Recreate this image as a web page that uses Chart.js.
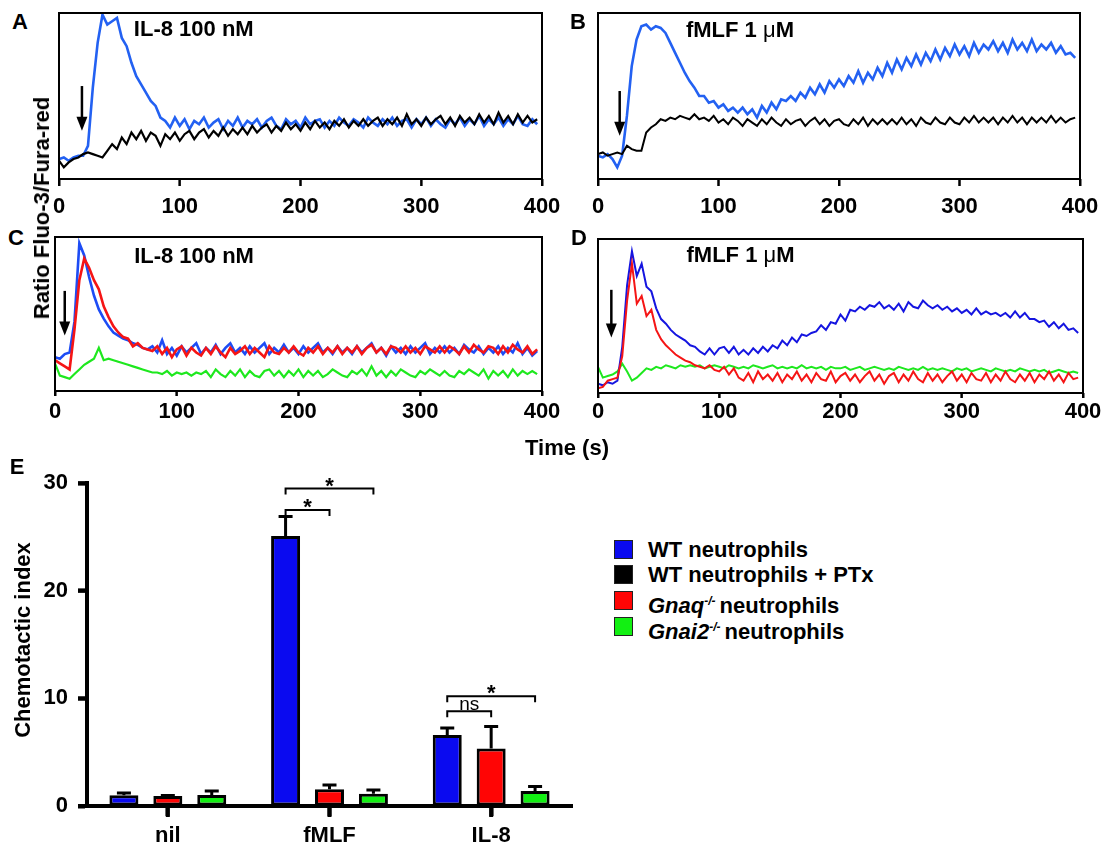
<!DOCTYPE html>
<html>
<head>
<meta charset="utf-8">
<script src="https://cdn.jsdelivr.net/npm/chart.js@4.4.0/dist/chart.umd.min.js"></script>
<style>
  body { margin: 0; background: #fff; }
  #page { position: relative; width: 1101px; height: 845px; overflow: hidden;
          font-family: "Liberation Sans", Arial, Helvetica, sans-serif; font-weight: bold; color: #000; }
  canvas { position: absolute; }
  .lbl { position: absolute; font-size: 22px; white-space: nowrap; transform: translate(-50%, -50%); }
  .rot { transform: translate(-50%, -50%) rotate(-90deg); }
  .leg { position: absolute; left: 614px; font-size: 22px; white-space: nowrap; height: 20px; line-height: 20px; }
  .leg .sw { display: inline-block; width: 17px; height: 17px; border: 1.5px solid #222; vertical-align: top; margin-right: 15px; }
  .leg sup { font-size: 12px; font-style: italic; vertical-align: 8px; margin-right: 4px; }
</style>
</head>
<body>
<div id="page">
  <canvas id="panelA"></canvas>
  <canvas id="panelB"></canvas>
  <canvas id="panelC"></canvas>
  <canvas id="panelD"></canvas>
  <canvas id="panelE" width="600" height="385" style="left:0px;top:460px;"></canvas>

  <div class="lbl" style="left:20px;top:22px;">A</div>
  <div class="lbl" style="left:578px;top:22px;">B</div>
  <div class="lbl" style="left:16px;top:238px;">C</div>
  <div class="lbl" style="left:579px;top:238px;">D</div>
  <div class="lbl" style="left:17px;top:467px;">E</div>
  <div class="lbl rot" style="left:42px;top:208px;">Ratio Fluo-3/Fura-red</div>
  <div class="lbl" style="left:567px;top:448px;">Time (s)</div>
  <div class="lbl rot" style="left:23px;top:640px;">Chemotactic index</div>
  <div id="legend"></div>
</div>

<script>
// sample times (s) shared by all calcium traces
const times = [0,4,8,12,16,20,24,28,32,36, 40,44,48,52,56,60,64,68,72,76,
  80,84,88,92,96,100,104,108,112,116, 120,124,128,132,136,140,144,148,152,156,
  160,164,168,172,176,180,184,188,192,196, 200,204,208,212,216,220,224,228,232,236,
  240,244,248,252,256,260,264,268,272,276, 280,284,288,292,296,300,304,308,312,316,
  320,324,328,332,336,340,344,348,352,356, 360,364,368,372,376,380,384,388,392,396];
const timeTicks = [0, 100, 200, 300, 400];

// A: IL-8 100 nM, WT vs WT + PTx
const aBlue = [12,13,11,13,14,14,20,55,82,99, 93,95,97,85,80,70,62,57,52,47,
  44,37,35,31,37,32,36,30,35,33, 37,31,34,36,30,35,32,37,31,35,
  33,36,31,35,37,32,30,36,33,35, 31,37,33,35,36,31,35,32,37,34,
  32,36,34,31,37,34,32,36,33,37, 32,35,36,31,36,33,37,32,36,33,
  31,36,33,37,32,36,33,38,32,36, 33,37,32,36,33,38,33,32,36,33];
const aBlack = [11,7,10,12,13,15,16,15,14,13, 17,21,18,25,21,28,24,29,23,28,
  26,20,27,24,28,23,27,29,24,28, 30,25,29,26,31,26,30,27,31,27,
  32,28,31,33,28,32,29,34,30,33, 29,34,30,35,31,34,30,35,32,36,
  31,35,32,36,32,35,37,32,36,33, 37,32,39,33,36,32,37,33,36,38,
  33,37,32,38,34,37,33,39,34,38, 33,40,34,38,33,39,34,38,34,36];

// B: fMLF 1 uM, WT vs WT + PTx
const bBlue = [14,13,15,12,7,14,38,68,84,92, 93,90,92,91,88,82,76,70,64,59,
  55,50,50,46,47,43,45,41,43,40, 43,39,42,37,44,40,46,42,48,47,
  50,47,52,49,55,51,57,52,59,55, 60,56,62,58,65,58,64,60,67,62,
  70,64,72,66,73,68,75,69,76,71, 78,72,79,74,81,75,80,74,82,76,
  81,78,83,77,82,76,84,78,82,77, 84,77,81,78,82,76,80,75,76,73];
const bBlack = [15,16,14,15,16,15,20,18,17,17, 28,31,33,36,35,37,36,38,37,36,
  39,36,37,35,38,34,36,33,37,35, 32,36,34,32,36,33,37,34,32,36,
  33,35,36,32,35,37,33,36,32,35, 36,33,32,36,33,37,32,36,33,36,
  33,36,33,37,33,36,32,37,34,33, 37,34,33,37,34,33,37,34,38,34,
  37,34,37,33,37,34,38,34,37,33, 37,34,37,34,38,34,37,34,36,37];

// C: IL-8 100 nM, WT / Gnaq-/- / Gnai2-/-
const cBlue = [22,21,24,25,45,96,88,74,62,53, 47,42,38,36,34,33,31,30,28,27,
  29,25,33,24,28,23,29,25,28,31, 24,28,25,30,24,28,31,25,28,24,
  29,25,28,31,24,28,25,30,25,28, 24,29,25,28,31,25,28,24,29,25,
  28,24,29,25,28,31,25,28,23,29, 25,28,24,29,25,28,31,24,28,25,
  29,25,28,24,30,27,25,29,24,28, 25,29,24,28,25,31,24,28,23,26];
const cRed = [20,18,16,14,40,72,86,80,72,66, 55,48,42,38,35,34,29,31,28,27,
  26,29,24,28,22,27,29,23,28,25, 23,28,24,29,25,22,28,24,26,29,
  24,28,25,22,29,25,24,28,25,29, 25,23,28,25,29,24,28,25,29,24,
  28,25,29,24,28,30,25,28,24,29, 28,25,29,25,28,24,29,27,25,29,
  25,29,27,24,29,25,30,27,25,29, 28,24,29,25,30,27,25,29,24,27];
const cGreen = [18,10,9,8,11,14,17,19,21,28, 20,21,20,19,18,17,16,15,14,13,
  12,12,11,13,10,12,11,12,10,12, 11,13,9,14,11,9,13,10,14,9,
  13,10,9,13,14,10,13,9,13,10, 14,9,13,10,13,9,11,14,12,10,
  9,13,11,14,10,16,10,13,9,13, 10,14,12,10,9,13,11,14,12,10,
  13,10,9,13,11,14,12,10,14,8, 13,10,13,9,14,10,13,11,13,11];

// D: fMLF 1 uM, WT / Gnaq-/- / Gnai2-/-
const dBlue = [6,5,7,6,8,30,70,92,76,84, 69,66,55,48,45,41,38,36,34,31,
  30,27,25,29,25,29,30,26,30,25, 28,25,29,26,30,27,31,29,34,31,
  36,33,38,37,39,40,44,41,46,45, 51,47,54,53,56,54,57,56,59,55,
  57,54,58,53,59,56,55,60,57,55, 57,54,56,53,55,52,54,51,55,51,
  53,51,52,50,52,49,53,49,52,48, 48,46,47,43,46,42,45,41,42,39];
const dRed = [3,4,8,9,10,24,60,84,58,63, 50,54,41,35,31,28,25,23,21,20,
  18,17,16,18,15,14,17,12,16,10, 8,13,7,14,9,12,8,13,7,12,
  9,14,8,12,7,13,9,8,14,7, 11,13,8,12,7,11,14,8,12,6,
  11,13,7,12,8,14,9,7,13,8, 12,7,11,14,8,12,7,13,9,8,
  13,7,12,8,14,9,7,12,8,13, 7,12,9,14,8,12,7,13,9,10];
const dGreen = [17,10,11,12,14,19,14,8,10,13, 16,15,17,16,18,17,16,18,17,18,
  17,18,16,17,18,17,16,18,17,16, 17,16,18,17,16,17,18,16,17,16,
  17,16,18,16,17,16,17,15,17,16, 16,17,15,16,17,15,16,17,16,15,
  16,15,17,16,15,16,15,17,15,16, 15,16,15,14,16,15,16,14,15,16,
  15,14,16,15,14,15,14,16,15,14, 15,14,15,13,14,15,14,13,14,13];

// E: chemotaxis
const groups = ['nil', 'fMLF', 'IL-8'];
const wtMean = [1.0, 25.1, 6.6];
const wtSem = [0.2, 1.8, 0.65];
const gnaqMean = [0.93, 1.55, 5.35];
const gnaqSem = [0.05, 0.4, 2.05];
const gnai2Mean = [1.02, 1.14, 1.39];
const gnai2Sem = [0.37, 0.34, 0.43];
const indexTicks = [0, 10, 20, 30];

// significance brackets: group, from bar, to bar, height, text
const sigGroup = [1, 1, 2, 2];
const sigFrom = [0, 0, 0, 0];
const sigTo = [1, 2, 1, 2];
const sigLevel = [27.5, 29.5, 8.8, 10.2];
const sigText = ['*', '*', 'ns', '*'];

const legendNames = ['WT neutrophils', 'WT neutrophils + PTx',
  '<i>Gnaq</i><sup>-/-</sup>neutrophils', '<i>Gnai2</i><sup>-/-</sup>neutrophils'];
const legendColors = ['#0a0af0', '#000000', '#ff0505', '#12f012'];

const FONT = '"Liberation Sans", Arial, Helvetica, sans-serif';
Chart.defaults.font.family = FONT;
Chart.defaults.color = '#000';

const blueAB = '#2361f2', blueC = '#1d4cf5', blueD = '#1515e0';
const red = '#f51515', green = '#1ee81e', black = '#000';

function makeDecor(note, tickLen) {
  return {
    id: 'decor',
    afterDatasetsDraw(chart) {
      const {ctx, chartArea: a, scales: {x, y}} = chart;
      ctx.save();
      ctx.strokeStyle = '#000';
      ctx.fillStyle = '#000';
      ctx.lineWidth = 2;
      ctx.strokeRect(a.left, a.top, a.right - a.left, a.bottom - a.top);
      // tick marks under the box
      ctx.beginPath();
      timeTicks.forEach(v => {
        const px = x.getPixelForValue(v);
        ctx.moveTo(px, a.bottom); ctx.lineTo(px, a.bottom + tickLen);
      });
      ctx.stroke();
      // injection arrow
      const ax = x.getPixelForValue(note.arrowT);
      const y1 = y.getPixelForValue(note.arrowFrom);
      const y2 = y.getPixelForValue(note.arrowTo);
      ctx.lineWidth = 2.5;
      ctx.beginPath(); ctx.moveTo(ax, y1); ctx.lineTo(ax, y2 - 10); ctx.stroke();
      ctx.beginPath(); ctx.moveTo(ax - 5.5, y2 - 14); ctx.lineTo(ax + 5.5, y2 - 14); ctx.lineTo(ax, y2); ctx.closePath(); ctx.fill();
      // stimulus label
      let tx = x.getPixelForValue(note.titleT);
      const ty = y.getPixelForValue(note.titleY);
      ctx.textBaseline = 'middle';
      note.title.forEach(p => {
        ctx.font = (p.b ? 'bold ' : '') + '22px ' + FONT;
        ctx.fillText(p.t, tx, ty);
        tx += ctx.measureText(p.t).width;
      });
      ctx.restore();
    }
  };
}

function tracePanel(id, box, sets, note, tickPad, tickLen) {
  const padL = 30, padR = 32, padT = 8, axisH = 45;
  const cv = document.getElementById(id);
  cv.width = box.right - box.left + padL + padR;
  cv.height = box.bottom - box.top + padT + axisH;
  cv.style.left = (box.left - padL) + 'px';
  cv.style.top = (box.top - padT) + 'px';
  new Chart(cv, {
    type: 'line',
    data: {
      datasets: sets.map(s => ({
        data: times.map((t, i) => ({x: t, y: s.values[i]})),
        borderColor: s.color, borderWidth: s.width, pointRadius: 0, tension: 0, order: s.order
      }))
    },
    options: {
      responsive: false, animation: false, devicePixelRatio: 1,
      layout: {padding: {left: padL, right: padR, top: padT, bottom: 0}},
      plugins: {legend: {display: false}, tooltip: {enabled: false}},
      scales: {
        x: {
          type: 'linear', min: 0, max: 400,
          afterFit: s => { s.height = axisH; },
          afterBuildTicks: s => { s.ticks = timeTicks.map(v => ({value: v})); },
          border: {display: false},
          grid: {drawOnChartArea: false, tickLength: tickLen, tickWidth: 2, color: '#000'},
          ticks: {padding: tickPad, maxRotation: 0, font: {size: 22, weight: 'bold'}}
        },
        y: {display: false, min: 0, max: 100}
      }
    },
    plugins: [makeDecor(note, tickLen)]
  });
}

const il8Title = [{t: 'IL-8 100 nM', b: true}];
const fmlfTitle = [{t: 'fMLF 1 ', b: true}, {t: 'μ', b: false}, {t: 'M', b: true}];

tracePanel('panelA', {left: 59, right: 542, top: 13, bottom: 179},
  [{values: aBlue, color: blueAB, width: 2.6, order: 1},
   {values: aBlack, color: black, width: 2.2, order: 0}],
  {arrowT: 19, arrowFrom: 56, arrowTo: 29, titleT: 62, titleY: 90, title: il8Title}, 8, 7);

tracePanel('panelB', {left: 598, right: 1080, top: 13, bottom: 179},
  [{values: bBlue, color: blueAB, width: 2.6, order: 1},
   {values: bBlack, color: black, width: 2, order: 0}],
  {arrowT: 18, arrowFrom: 53, arrowTo: 26, titleT: 73, titleY: 89, title: fmlfTitle}, 8, 7);

tracePanel('panelC', {left: 55, right: 542, top: 237, bottom: 391},
  [{values: cBlue, color: blueC, width: 2.6, order: 1},
   {values: cRed, color: red, width: 2.6, order: 0},
   {values: cGreen, color: green, width: 2.2, order: 2}],
  {arrowT: 8, arrowFrom: 65, arrowTo: 36, titleT: 65, titleY: 87, title: il8Title}, 3, 5);

tracePanel('panelD', {left: 598, right: 1083, top: 239, bottom: 393},
  [{values: dBlue, color: blueD, width: 2, order: 1},
   {values: dRed, color: red, width: 2, order: 0},
   {values: dGreen, color: green, width: 2, order: 2}],
  {arrowT: 11, arrowFrom: 67, arrowTo: 36, titleT: 73, titleY: 89, title: fmlfTitle}, 1, 5);

// bar chart E
const barSets = [
  {mean: wtMean, sem: wtSem, color: legendColors[0]},
  {mean: gnaqMean, sem: gnaqSem, color: legendColors[2]},
  {mean: gnai2Mean, sem: gnai2Sem, color: legendColors[3]}
];

const barExtras = {
  id: 'barExtras',
  afterDatasetsDraw(chart) {
    const {ctx, chartArea: a, scales: {x, y}} = chart;
    ctx.save();
    ctx.strokeStyle = '#000';
    ctx.fillStyle = '#000';
    // axis tick marks
    ctx.lineWidth = 4;
    ctx.beginPath();
    groups.forEach((g, i) => {
      const px = x.getPixelForValue(i);
      ctx.moveTo(px, a.bottom); ctx.lineTo(px, a.bottom + 11);
    });
    indexTicks.forEach(v => {
      const py = y.getPixelForValue(v);
      ctx.moveTo(a.left, py); ctx.lineTo(a.left - 9, py);
    });
    ctx.stroke();
    // upper error bars
    ctx.lineWidth = 3;
    barSets.forEach((s, d) => {
      chart.getDatasetMeta(d).data.forEach((el, i) => {
        const top = y.getPixelForValue(s.mean[i] + s.sem[i]);
        ctx.beginPath();
        ctx.moveTo(el.x, el.y); ctx.lineTo(el.x, top);
        ctx.moveTo(el.x - 7, top); ctx.lineTo(el.x + 7, top);
        ctx.stroke();
      });
    });
    // significance brackets
    ctx.lineWidth = 2;
    ctx.textAlign = 'center';
    ctx.textBaseline = 'alphabetic';
    sigText.forEach((txt, k) => {
      const x1 = chart.getDatasetMeta(sigFrom[k]).data[sigGroup[k]].x;
      const x2 = chart.getDatasetMeta(sigTo[k]).data[sigGroup[k]].x;
      const yl = y.getPixelForValue(sigLevel[k]);
      ctx.beginPath();
      ctx.moveTo(x1, yl + 6); ctx.lineTo(x1, yl); ctx.lineTo(x2, yl); ctx.lineTo(x2, yl + 6);
      ctx.stroke();
      ctx.font = txt === 'ns' ? '19px ' + FONT : 'bold 22px ' + FONT;
      ctx.fillText(txt, (x1 + x2) / 2, txt === 'ns' ? yl - 1 : yl + 4);
    });
    ctx.restore();
  }
};

new Chart(document.getElementById('panelE'), {
  type: 'bar',
  data: {
    labels: groups,
    datasets: barSets.map(s => ({
      data: s.mean, backgroundColor: s.color, borderColor: '#000', borderWidth: 3,
      borderSkipped: false, categoryPercentage: 0.815, barPercentage: 0.66
    }))
  },
  options: {
    responsive: false, animation: false, devicePixelRatio: 1,
    layout: {padding: {left: 0, right: 28, top: 22, bottom: 0}},
    plugins: {legend: {display: false}, tooltip: {enabled: false}},
    scales: {
      x: {
        afterFit: s => { s.height = 39; },
        border: {color: '#000', width: 4},
        grid: {offset: false, drawOnChartArea: false, tickLength: 10, tickWidth: 4, color: '#000'},
        ticks: {padding: 7, font: {size: 22, weight: 'bold'}}
      },
      y: {
        min: 0, max: 30,
        afterFit: s => { s.width = 87; },
        afterBuildTicks: s => { s.ticks = indexTicks.map(v => ({value: v})); },
        border: {color: '#000', width: 4},
        grid: {drawOnChartArea: false, tickLength: 9, tickWidth: 4, color: '#000'},
        ticks: {padding: 10, font: {size: 22, weight: 'bold'}}
      }
    }
  },
  plugins: [barExtras]
});

// legend
const legendTops = [540, 565, 591, 617];
document.getElementById('legend').innerHTML = legendNames.map((n, i) =>
  '<div class="leg" style="top:' + legendTops[i] + 'px"><span class="sw" style="background:' +
  legendColors[i] + '"></span>' + n + '</div>').join('');
</script>
</body>
</html>
